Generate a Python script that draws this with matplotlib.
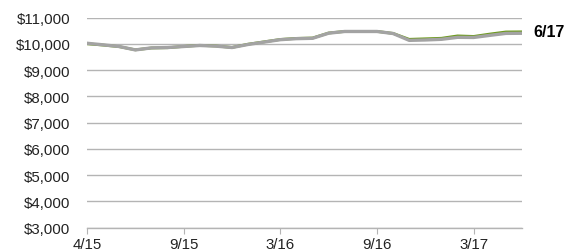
import matplotlib
matplotlib.use('Agg')
from matplotlib import pyplot as plt
from matplotlib.ticker import FuncFormatter

plt.rcParams['font.family'] = ['Liberation Sans', 'DejaVu Sans']

# monthly values, 28 points
fund = [10000, 9950, 9890, 9770, 9840, 9850, 9900, 9940, 9915, 9860,
        9985, 10075, 10165, 10205, 10220, 10410, 10470, 10470, 10470, 10395,
        10170, 10190, 10210, 10300, 10280, 10370, 10450, 10455]
index = [10020, 9960, 9896, 9766, 9844, 9857, 9896, 9935, 9910, 9857,
         9974, 10065, 10156, 10195, 10208, 10403, 10468, 10468, 10468, 10390,
         10130, 10145, 10170, 10245, 10240, 10320, 10395, 10400]
tick_pos = [0, 6, 12, 18, 24]
tick_labels = ['4/15', '9/15', '3/16', '9/16', '3/17']
end_label = '6/17'

x = list(range(len(fund)))

fig = plt.figure(figsize=(5.74, 2.51), dpi=100)
ax = fig.add_axes([87 / 574, 1 - 228.7 / 251, 435 / 574, 210.2 / 251])

ax.plot(x, fund, color='#6e9b1e', lw=2.0, zorder=3)
ax.plot(x, index, color='#a3a3a3', lw=2.4, zorder=4)

ax.set_xlim(0, len(x) - 1)
ax.set_ylim(3000, 11000)
ax.set_yticks(range(3000, 11001, 1000))
ax.yaxis.set_major_formatter(FuncFormatter(lambda v, p: '${:,.0f}'.format(v)))
ax.grid(axis='y', color='#b4b4b4', lw=1.0)
ax.set_axisbelow(True)

ax.set_xticks(tick_pos)
ax.set_xticklabels(tick_labels)

for s in ['top', 'right', 'left']:
    ax.spines[s].set_visible(False)
ax.spines['bottom'].set_color('#b4b4b4')
ax.spines['bottom'].set_linewidth(1.0)
ax.tick_params(axis='y', length=0, pad=12, labelsize=10.8, colors='#222222')
ax.tick_params(axis='x', length=4, color='#b4b4b4', pad=3, labelsize=10.8, colors='#222222')

ax.annotate(end_label, xy=(x[-1], fund[-1]), xytext=(11, 0), textcoords='offset pixels',
            ha='left', va='center', fontsize=11.5, fontweight='bold', annotation_clip=False)

fig.savefig('out.png', dpi=100)
